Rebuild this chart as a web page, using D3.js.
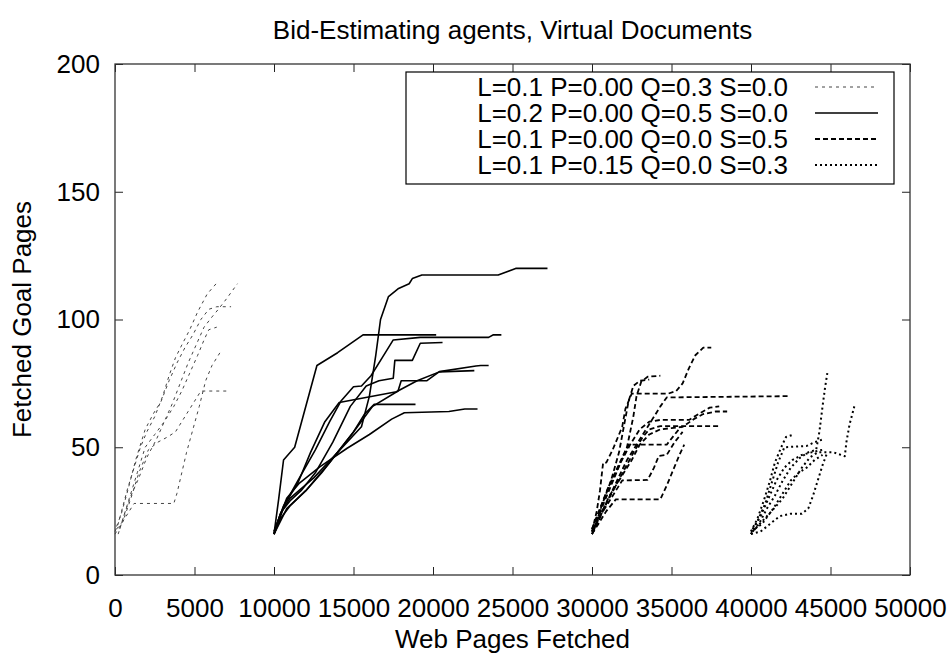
<!DOCTYPE html>
<html>
<head>
<meta charset="utf-8">
<script src="https://cdn.jsdelivr.net/npm/d3@7"></script>
<style>
  body { margin: 0; background: #fff; }
  svg { display: block; font-family: 'Liberation Sans', Arial, Helvetica, sans-serif; }
</style>
</head>
<body>
<svg id="chart" width="949" height="656"></svg>
<script>
// legend labels, one per series
const seriesNames = [
  'L=0.1 P=0.00 Q=0.3 S=0.0',
  'L=0.2 P=0.00 Q=0.5 S=0.0',
  'L=0.1 P=0.00 Q=0.0 S=0.5',
  'L=0.1 P=0.15 Q=0.0 S=0.3'
]

const xTicks = [0, 5000, 10000, 15000, 20000, 25000, 30000, 35000, 40000, 45000, 50000]
const yTicks = [0, 50, 100, 150, 200]

// runs for L=0.1 Q=0.3 (start near 0)
const runsQ3 = [
  [[0,17],[200,20],[500,27],[800,34],[1200,42],[1600,50],[2000,56],[2500,62],[3000,70],[3400,78],[3800,85],[4200,90],[4700,96],[5200,103],[5800,110],[6500,115]],
  [[300,18],[600,24],[1000,31],[1500,38],[2000,46],[2600,53],[3100,60],[3600,67],[4100,75],[4600,83],[5100,90],[5600,97],[6100,101],[6500,104],[7000,108],[7700,114]],
  [[100,19],[400,24],[800,33],[1300,45],[1900,57],[2400,63],[2900,68],[3400,76],[3900,83],[4400,89],[4900,94],[5400,100],[5900,104],[6400,105],[7300,105]],
  [[200,16],[500,22],[900,30],[1400,40],[1900,50],[2500,55],[3100,60],[3700,66],[4200,72],[4700,79],[5200,86],[5600,92],[5900,96],[6400,97]],
  [[0,16],[400,20],[800,24],[1200,28],[3700,28],[3900,32],[4200,40],[4500,48],[4900,57],[5300,66],[5700,76],[6100,82],[6400,85],[6700,88]],
  [[100,18],[500,21],[1000,30],[1500,40],[2100,49],[2700,52],[3300,54],[3800,56],[4200,60],[4600,64],[5000,68],[5400,72],[7100,72]]
]

// runs for L=0.2 Q=0.5 (start near 10000)
const runsQ5 = [
  [[10000,16],[10300,30],[10600,45],[11300,50],[12700,82],[14000,87],[15600,94],[20200,94]],
  [[10000,16],[10400,24],[11000,30],[12500,38],[14000,48],[15500,58],[16000,70],[16400,86],[16700,100],[17200,109],[17800,112],[18500,114],[18700,116],[19300,117.4],[24100,117.4],[25200,120],[27200,120]],
  [[10000,16],[10700,28],[11600,38],[12600,49],[13500,60],[14200,68],[15000,73.7],[15500,74],[16100,78],[16800,85],[17500,92],[19200,93],[23500,93],[23800,94],[24300,94]],
  [[10000,17],[10500,25],[11000,29],[11700,33],[12600,40],[13700,52],[14800,66],[15800,74],[16600,76],[17500,77],[17600,84],[18700,84],[19200,90.7],[20600,91]],
  [[10000,16],[10800,26],[12000,33],[13500,44],[15000,56],[16200,66],[17800,72],[18000,76],[19600,76],[20400,79.6],[22700,81.8],[23000,82],[23500,82]],
  [[10000,17],[10600,27],[11500,36],[12300,48],[13200,60],[14100,67.5],[17700,71.7],[19000,76],[20400,79.5],[22600,80]],
  [[10000,16],[10400,22],[11000,27],[12000,33],[13000,40],[14000,48],[15000,56],[15700,63],[16300,66.8],[18900,66.8]],
  [[10000,16],[10300,22],[10800,30],[11600,36],[12900,42.4],[14600,49.6],[16000,55],[17400,61],[18200,63.5],[21000,64],[22000,65],[22800,65]]
]

// runs for L=0.1 S=0.5 (start near 30000)
const runsS5 = [
  [[30000,17],[30300,25],[30500,33],[30700,44],[30900,44],[31300,49],[31900,58],[32100,65],[32500,71],[34800,71],[35300,72],[35700,75],[36100,81],[36500,86],[37000,89],[37500,89]],
  [[30000,16],[30400,22],[30900,28],[31500,36],[32200,45],[33000,53],[33800,61],[34300,66],[34700,69.5],[42300,70]],
  [[30000,18],[30500,26],[31000,34],[31600,42],[32200,50],[32600,62],[32800,70],[33100,75.7],[33500,77.6],[34300,78]],
  [[30100,17],[30600,27],[31200,37],[31700,48],[32000,58],[32300,68],[32600,74],[33000,76],[33600,76.5]],
  [[30000,17],[30500,23],[31100,31],[31800,38],[32500,45],[33000,51],[33600,55],[34300,57],[35000,57.5],[35700,58],[36400,61],[37000,63],[37800,64],[38500,64]],
  [[30000,16],[30400,21],[30900,28],[31500,35],[32100,42],[32700,49],[33200,54],[33600,57],[34300,58.3],[38000,58.3]],
  [[30100,18],[30600,26],[31200,35],[31800,44],[32400,51],[33000,57],[33600,60],[34300,60.7],[36100,60.7],[36700,63],[37400,65.5],[38000,66]],
  [[30000,16],[30400,20],[30900,25],[31500,29.6],[34300,29.6],[34700,35],[35100,41],[35500,47],[35800,51]],
  [[30000,17],[30500,23],[31200,30],[31900,37],[33500,37.2],[33900,42],[34200,46.6],[34700,47],[35200,52],[35700,56]],
  [[30000,18],[30400,24],[30900,32],[31500,40],[32000,47],[32300,51],[34700,51],[35200,55],[35600,58]]
]

// runs for L=0.1 P=0.15 S=0.3 (start near 40000)
const runsP15 = [
  [[40000,16],[40500,20],[41000,26],[41500,31],[42000,37],[42500,42],[43100,46],[43600,48],[44100,49],[44300,56],[44500,66],[44650,73],[44800,79]],
  [[40100,17],[40700,21],[41300,25],[42000,30],[42600,36],[43200,42],[43700,46],[44200,48],[45200,48],[45900,46.5],[46000,52],[46200,59],[46500,66]],
  [[40000,17],[40400,22],[40800,29],[41200,37],[41500,44],[41900,50],[42200,54],[42700,55]],
  [[40000,16],[40400,21],[40900,28],[41300,36],[41700,44],[42100,50],[43500,50.5],[44000,52],[44500,53]],
  [[40100,18],[40600,23],[41100,30],[41600,37],[42100,42],[42600,45],[43200,47],[43800,48],[44500,49]],
  [[40000,16],[40600,17],[41200,20],[41800,23],[42500,24],[43200,24],[43600,26],[43900,31],[44200,37],[44500,43],[44800,48]],
  [[40000,17],[40700,20],[41400,26],[42000,32],[42500,37],[43000,40],[43500,42],[44000,45],[44500,47]]
]

const allRuns = [runsQ3, runsQ5, runsS5, runsP15]
const styles = [
  { stroke: '#444', width: 1, dash: '3,4' },
  { stroke: '#000', width: 1.6, dash: null },
  { stroke: '#000', width: 1.8, dash: '5,3' },
  { stroke: '#000', width: 2, dash: '2,3' }
]

const svg = d3.select('#chart')
const width = 949
const height = 656
const margin = { top: 64, right: 39, bottom: 81, left: 115 }
const innerW = width - margin.left - margin.right
const innerH = height - margin.top - margin.bottom
const fontSize = 26

const x = d3.scaleLinear().domain([0, 50000]).range([0, innerW])
const y = d3.scaleLinear().domain([0, 200]).range([innerH, 0])

svg.append('text')
  .attr('x', margin.left + innerW / 2)
  .attr('y', 39)
  .attr('text-anchor', 'middle')
  .attr('font-size', fontSize)
  .text('Bid-Estimating agents, Virtual Documents')

const g = svg.append('g').attr('transform', `translate(${margin.left},${margin.top})`)

// axes, ticks mirrored inside like gnuplot
const tickLen = 8
g.append('g').attr('transform', `translate(0,${innerH})`)
  .call(d3.axisBottom(x).tickValues(xTicks).tickSize(-tickLen).tickPadding(24).tickFormat(d3.format('d')))
g.append('g').call(d3.axisTop(x).tickValues(xTicks).tickSize(-tickLen).tickFormat(''))
g.append('g')
  .call(d3.axisLeft(y).tickValues(yTicks).tickSize(-tickLen).tickPadding(15))
g.append('g').attr('transform', `translate(${innerW},0)`)
  .call(d3.axisRight(y).tickValues(yTicks).tickSize(-tickLen).tickFormat(''))

g.selectAll('.domain').remove()
g.selectAll('.tick line').attr('stroke', '#222').attr('stroke-width', 1)
g.selectAll('.tick text').attr('font-size', fontSize).attr('font-family', 'Liberation Sans, Arial, sans-serif').attr('fill', '#000')

g.append('rect')
  .attr('width', innerW).attr('height', innerH)
  .attr('fill', 'none').attr('stroke', '#333').attr('stroke-width', 1.3)

const line = d3.line().x(d => x(d[0])).y(d => y(d[1]))

allRuns.forEach((runs, i) => {
  const st = styles[i]
  g.append('g').selectAll('path')
    .data(runs)
    .enter()
    .append('path')
    .attr('d', line)
    .attr('fill', 'none')
    .attr('stroke', st.stroke)
    .attr('stroke-width', st.width)
    .attr('stroke-dasharray', st.dash)
    .attr('stroke-linejoin', 'round')
})

// legend box
const legend = svg.append('g').attr('transform', 'translate(406,72)')
legend.append('rect')
  .attr('width', 488).attr('height', 112)
  .attr('fill', '#fff').attr('stroke', '#000').attr('stroke-width', 1.2)

seriesNames.forEach((name, i) => {
  const yy = 15 + i * 26
  legend.append('text')
    .attr('x', 382).attr('y', yy)
    .attr('dy', '0.35em')
    .attr('text-anchor', 'end')
    .attr('font-size', fontSize)
    .text(name)
  legend.append('line')
    .attr('x1', 409).attr('x2', 472)
    .attr('y1', yy).attr('y2', yy)
    .attr('stroke', styles[i].stroke)
    .attr('stroke-width', styles[i].width)
    .attr('stroke-dasharray', styles[i].dash)
})

svg.append('text')
  .attr('x', margin.left + innerW / 2)
  .attr('y', 648)
  .attr('text-anchor', 'middle')
  .attr('font-size', fontSize)
  .text('Web Pages Fetched')

svg.append('text')
  .attr('transform', `translate(31,${margin.top + innerH / 2}) rotate(-90)`)
  .attr('text-anchor', 'middle')
  .attr('font-size', fontSize)
  .text('Fetched Goal Pages')
</script>
</body>
</html>
